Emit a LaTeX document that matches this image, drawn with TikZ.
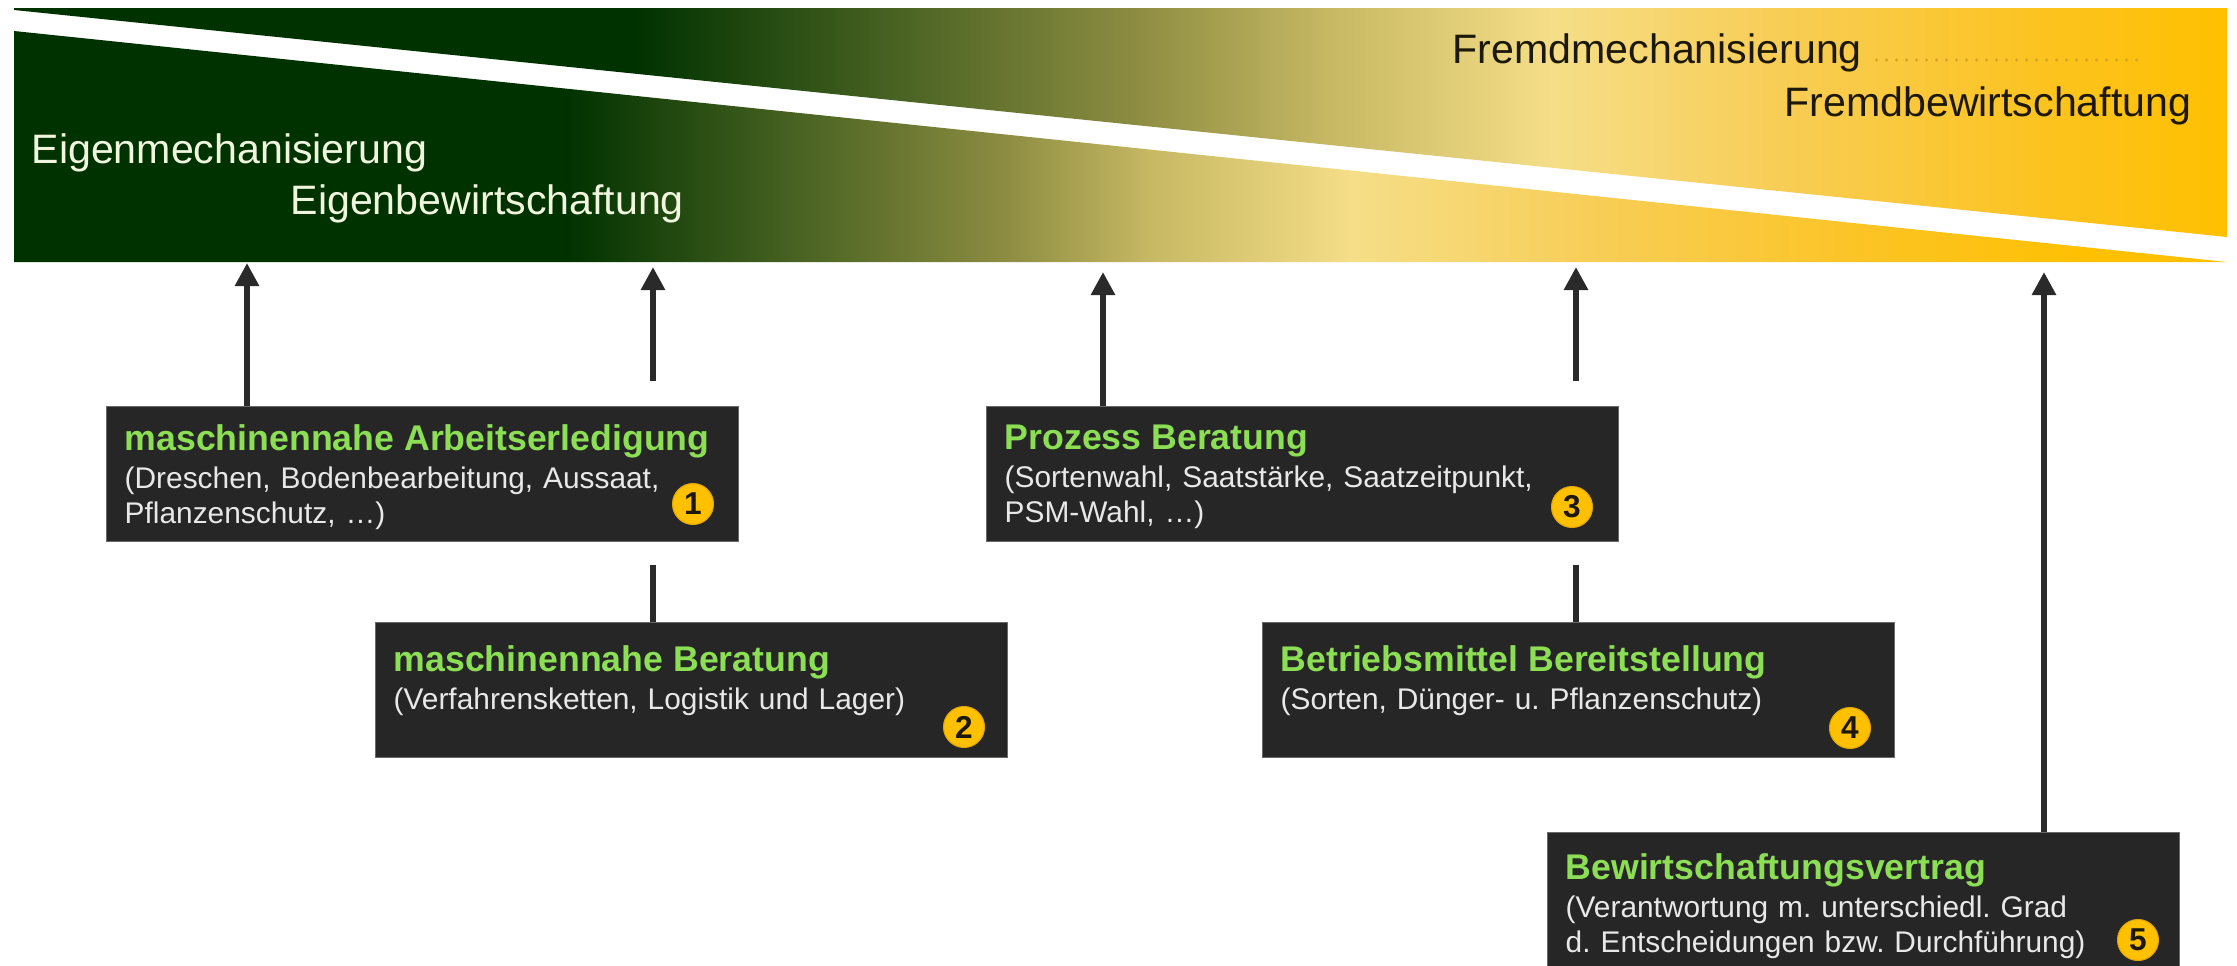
\documentclass[tikz,border=0pt]{standalone}
\usepackage{fontspec}
\setmainfont{Liberation Sans}
\usetikzlibrary{arrows.meta,calc}

% palette
\definecolor{dkgreen}{RGB}{0,50,0}
\definecolor{gA}{RGB}{75,100,35}
\definecolor{gB}{RGB}{140,140,65}
\definecolor{gC}{RGB}{200,185,100}
\definecolor{gD}{RGB}{245,222,135}
\definecolor{gE}{RGB}{248,205,85}
\definecolor{gF}{RGB}{252,195,30}
\definecolor{gG}{RGB}{255,192,0}
\definecolor{cream}{RGB}{240,245,222}
\definecolor{darktxt}{RGB}{28,24,10}
\definecolor{boxbg}{RGB}{38,38,38}
\definecolor{boxedge}{RGB}{105,105,105}
\definecolor{titlegreen}{RGB}{140,222,85}
\definecolor{subgray}{RGB}{232,232,232}
\definecolor{badgey}{RGB}{255,192,0}
\definecolor{badgeedge}{RGB}{225,165,0}
\definecolor{arrgray}{RGB}{42,42,42}
\definecolor{dotcol}{RGB}{215,165,35}

% lower band of the banner: dark green -> olive -> pale yellow -> amber
\pgfdeclarehorizontalshading{lowband}{100bp}{%
  color(0bp)=(dkgreen); color(25bp)=(dkgreen); color(37.45bp)=(dkgreen);
  color(42.86bp)=(gA); color(47.36bp)=(gB); color(50.74bp)=(gC);
  color(55.25bp)=(gD); color(60.88bp)=(gE); color(67.64bp)=(gF);
  color(72.14bp)=(gG); color(75bp)=(gG); color(100bp)=(gG)}
% upper band: same ramp, shifted to the right
\pgfdeclarehorizontalshading{upband}{100bp}{%
  color(0bp)=(dkgreen); color(25bp)=(dkgreen); color(39.03bp)=(dkgreen);
  color(45.11bp)=(gA); color(50.29bp)=(gB); color(54.80bp)=(gC);
  color(59.75bp)=(gD); color(64.93bp)=(gE); color(71.01bp)=(gF);
  color(75bp)=(gG); color(100bp)=(gG)}

\newcommand{\boxtitle}{\bfseries\fontsize{10.15pt}{12pt}\selectfont\color{titlegreen}}
\newcommand{\boxsub}{\fontsize{8.5pt}{10pt}\selectfont\frenchspacing}
\newcommand{\bannerfont}{\fontsize{11.7pt}{14pt}\selectfont}

\begin{document}
\begin{tikzpicture}[x=0.1mm,y=-0.1mm,
  bantxt/.style={font=\bannerfont, inner sep=0pt},
  infobox/.style={fill=boxbg, draw=boxedge, line width=0.3pt,
    minimum width=63.2mm, minimum height=13.5mm, inner sep=0pt,
    anchor=north west},
  boxtext/.style={text width=59.6mm, inner sep=0pt, align=left,
    font=\boxsub, text=subgray, anchor=north west},
  badge/.style={circle, fill=badgey, draw=badgeedge, line width=0.3pt,
    minimum size=4.1mm, inner sep=0pt,
    font=\bfseries\fontsize{9pt}{9pt}\selectfont, text=darktxt},
  conn/.style={draw=arrgray, line width=0.68mm,
    -{Triangle[length=2.3mm,width=2.3mm]}},
  stub/.style={draw=arrgray, line width=0.68mm},
  dotline/.style={draw=dotcol, line width=0.35mm, line cap=round,
    dash pattern=on 0pt off 1mm}]

\useasboundingbox (0,0) rectangle (2237,966);
\fill[white] (0,0) rectangle (2237,966);

% banner: two shaded bands separated by a white diagonal
\shade[shading=upband] (14,8) -- (2227,8) -- (2227,237) -- (14,10) -- cycle;
\shade[shading=lowband] (14,31) -- (2227,262) -- (14,262) -- cycle;

% banner labels
\node[bantxt, text=cream, anchor=base west] (eigm) at (31,163) {Eigenmechanisierung};
\node[bantxt, text=cream, anchor=base west] (eigb) at (290,214) {Eigenbewirtschaftung};
\node[bantxt, text=darktxt, anchor=base west] (frm) at (1452,63) {Fremdmechanisierung};
\node[bantxt, text=darktxt, anchor=base east] (frb) at (2192,116) {Fremdbewirtschaftung};
\coordinate (dotend) at (2140,60);
\draw[dotline] ($(frm.base east)+(14,-3)$) -- (dotend);

% arrow targets under the banner
\coordinate (t1) at (247,263);
\coordinate (t2) at (653,267);
\coordinate (t3) at (1103,272);
\coordinate (t4) at (1576,267);
\coordinate (t5) at (2044,272);
% free ends of the interrupted connectors
\coordinate (s2) at (653,381);
\coordinate (s4) at (1576,381);
\coordinate (u2) at (653,565);
\coordinate (u4) at (1576,565);

% boxes
\node[infobox] (box1) at (106,406) {};
\node[infobox] (box3) at (986,406) {};
\node[infobox] (box2) at (375,622) {};
\node[infobox] (box4) at (1262,622) {};
\node[infobox, minimum height=13.6mm] (box5) at (1547,832) {};

% box texts
\node[boxtext] (txt1) at ($(box1.north west)+(18,18)$)
  {{\boxtitle maschinennahe Arbeitserledigung}\\[0.8pt]
   (Dreschen, Bodenbearbeitung, Aussaat,\\Pflanzenschutz, …)};
\node[boxtext] (txt3) at ($(box3.north west)+(18,18)$)
  {{\boxtitle Prozess Beratung}\\[0.8pt]
   (Sortenwahl, Saatstärke, Saatzeitpunkt,\\PSM-Wahl, …)};
\node[boxtext] (txt2) at ($(box2.north west)+(18,23)$)
  {{\boxtitle maschinennahe Beratung}\\[0.8pt]
   (Verfahrensketten, Logistik und Lager)};
\node[boxtext] (txt4) at ($(box4.north west)+(18,23)$)
  {{\boxtitle Betriebsmittel Bereitstellung}\\[0.8pt]
   (Sorten, Dünger- u. Pflanzenschutz)};
\node[boxtext] (txt5) at ($(box5.north west)+(18,21)$)
  {{\boxtitle Bewirtschaftungsvertrag}\\[0.8pt]
   (Verantwortung m. unterschiedl. Grad\\d. Entscheidungen bzw. Durchführung)};

% number badges
\node[badge] (n1) at (693,504) {1};
\node[badge] (n3) at (1572,507) {3};
\node[badge] (n2) at (964,727) {2};
\node[badge] (n4) at (1850,728) {4};
\node[badge] (n5) at (2138,940) {5};

% connectors
\draw[conn] (box1.north -| t1) -- (t1);
\draw[conn] (s2) -- (t2);
\draw[stub] (box2.north -| u2) -- (u2);
\draw[conn] (box3.north -| t3) -- (t3);
\draw[conn] (s4) -- (t4);
\draw[stub] (box4.north -| u4) -- (u4);
\draw[conn] (box5.north -| t5) -- (t5);

\end{tikzpicture}
\end{document}
